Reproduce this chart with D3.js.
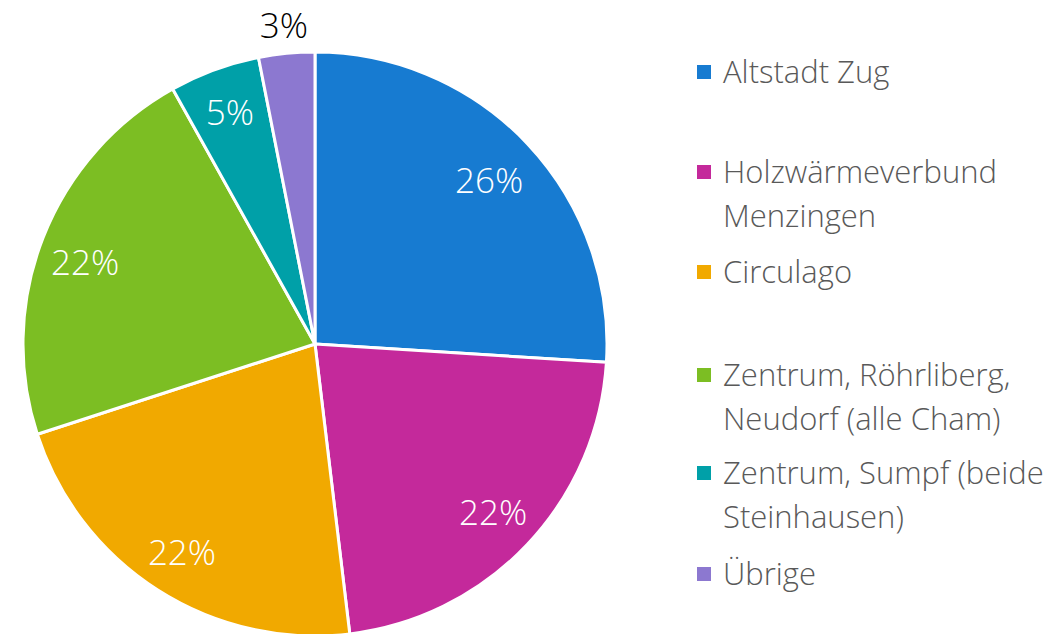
<!DOCTYPE html>
<html><head><meta charset="utf-8">
<script src="https://cdn.jsdelivr.net/npm/d3@7"></script>
<style>body{margin:0;background:#fff}svg{display:block}</style>
</head><body>
<svg id="c" width="1051" height="634"></svg>
<script>
const categories = ["Altstadt Zug","Holzwärmeverbund Menzingen","Circulago","Zentrum, Röhrliberg, Neudorf (alle Cham)","Zentrum, Sumpf (beide Steinhausen)","Übrige"];
const legendLines = [["Altstadt Zug"],["Holzwärmeverbund","Menzingen"],["Circulago"],["Zentrum, Röhrliberg,","Neudorf (alle Cham)"],["Zentrum, Sumpf (beide","Steinhausen)"],["Übrige"]];
const values = [26.0, 22.1, 21.9, 21.9, 5.0, 3.1];
const labels = ["26%","22%","22%","22%","5%","3%"];
const colors = ["#177BD1","#C4299B","#F1A900","#7CBE23","#00A0A8","#8C78D0"];

const svg = d3.select("#c");
const cx = 315, cy = 344, R = 292;
const g = svg.append("g").attr("transform", `translate(${cx},${cy})`);
const pie = d3.pie().sort(null).value(d => d);
const arcs = pie(values);
const arc = d3.arc().innerRadius(0).outerRadius(R);
g.selectAll("path").data(arcs).join("path")
  .attr("d", arc).attr("fill", (d,i) => colors[i])
  .attr("stroke", "#fff").attr("stroke-width", 3).attr("stroke-linejoin","round");

const labelR = [239, 245, 247, 244, 247, 320];
const labelDA = [0, 0, 0, -1.8, 0, 0]; // degrees
g.selectAll("text.lbl").data(arcs).join("text").attr("class","lbl")
  .each(function(d,i){
    const a = (d.startAngle + d.endAngle)/2 + labelDA[i]*Math.PI/180;
    d3.select(this).attr("x", Math.sin(a)*labelR[i]).attr("y", -Math.cos(a)*labelR[i]);
  })
  .attr("text-anchor","middle").attr("dy","0.36em")
  .attr("font-family","'Open Sans', sans-serif").attr("font-weight",300).attr("font-size",35)
  .attr("fill",(d,i)=> i===5 ? "#000" : "#fff")
  .text((d,i)=>labels[i]);

const legY = [72, 172, 272, 375, 473, 574];
const lg = svg.append("g");
legendLines.forEach((lines, i) => {
  lg.append("rect").attr("x", 697).attr("y", legY[i]-7).attr("width", 14).attr("height", 14).attr("fill", colors[i]);
  lines.forEach((t, j) => {
    lg.append("text").attr("x", 723).attr("y", legY[i] + j*44).attr("dy","0.36em")
      .attr("font-family","'Open Sans', sans-serif").attr("font-weight",300).attr("font-size",31)
      .attr("fill","#595959").text(t);
  });
});
</script>
</body></html>
